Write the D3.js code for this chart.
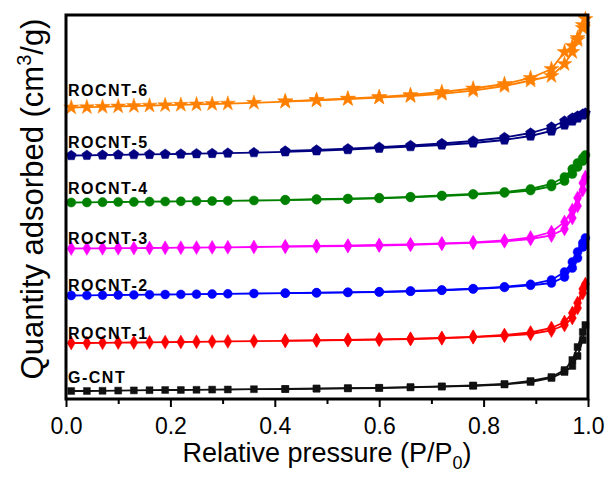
<!DOCTYPE html>
<html>
<head>
<meta charset="utf-8">
<script src="https://cdn.jsdelivr.net/npm/d3@7"></script>
<style>
  body { margin: 0; background: #fff; }
  svg { display: block; font-family: Arial, "Liberation Sans", sans-serif; }
</style>
</head>
<body>
<div id="chart"></div>
<script>
// relative pressure P/P0 of the measured points
const pressureAds = [0.01, 0.04, 0.07, 0.1, 0.13, 0.16, 0.19, 0.22, 0.25, 0.28, 0.31, 0.36, 0.42, 0.48,
    0.54, 0.6, 0.66, 0.72, 0.78, 0.84, 0.89, 0.93, 0.955, 0.97, 0.98, 0.99, 0.995];
const pressureDes = [0.99, 0.98, 0.97, 0.955, 0.93, 0.89, 0.84, 0.78, 0.72, 0.66, 0.6, 0.54, 0.48, 0.42];

const seriesNames = ["G-CNT", "ROCNT-1", "ROCNT-2", "ROCNT-3", "ROCNT-4", "ROCNT-5", "ROCNT-6"];

// quantity adsorbed (offset isotherms, arbitrary units)
const gcntAds = [8, 8, 8.2, 8.4, 8.6, 8.8, 9, 9, 9.2, 9.4, 9.5, 9.8, 10, 10.4, 10.7, 11, 11.7, 12.4, 13.2,
    14.5, 17, 21, 27, 33, 43, 59, 74];
const gcntDes = [67, 52, 39, 29, 22, 18, 15, 13.5, 12.6, 11.8, 11.2, 10.8, 10.4, 10];

const rocnt1Ads = [56, 56, 56.2, 56.4, 56.5, 56.7, 56.9, 57, 57.2, 57.4, 57.6, 57.9, 58.2, 58.6, 59, 59.4,
    60, 60.8, 61.8, 63.2, 65, 68.5, 74, 81, 91, 106, 115];
const rocnt1Des = [110, 96, 86, 77, 71, 66.5, 64, 62.2, 61, 60.2, 59.6, 59.1, 58.7, 58.3];

const rocnt2Ads = [103.5, 103.6, 103.8, 104, 104.1, 104.3, 104.5, 104.6, 104.8, 105, 105.2, 105.5, 105.8,
    106.2, 106.6, 107, 107.7, 108.7, 110, 111.6, 113.7, 116, 122, 131, 141, 152, 161];
const rocnt2Des = [156, 147, 137, 127, 119, 114.7, 112.2, 110.4, 109, 108, 107.2, 106.7, 106.3, 105.9];

const rocnt3Ads = [150.5, 150.6, 150.7, 150.8, 150.9, 151, 151.2, 151.3, 151.4, 151.6, 151.7, 152, 152.3,
    152.7, 153, 153.5, 154.2, 155.2, 156.2, 157.7, 160, 163.5, 170, 181, 193, 209, 222];
const rocnt3Des = [216, 201, 189, 177, 167, 161.5, 158.5, 156.7, 155.6, 154.7, 154, 153.4, 153, 152.6];

const rocnt4Ads = [196.5, 196.6, 196.8, 197, 197.1, 197.3, 197.5, 197.7, 197.9, 198, 198.2, 198.5, 198.9,
    199.4, 200, 200.7, 201.7, 203, 204.4, 206.2, 208.5, 212.5, 218, 225, 232, 238, 244];
const rocnt4Des = [241, 236, 230, 222, 215, 210, 207, 205, 203.5, 202.2, 201.2, 200.4, 199.8, 199.2];

const rocnt5Ads = [243.5, 243.7, 244, 244.2, 244.4, 244.6, 244.8, 245, 245.3, 245.6, 245.9, 246.4, 247.2,
    248.2, 249.4, 250.8, 252.4, 254, 256, 259, 263, 268, 274, 278, 281, 284, 286];
const rocnt5Des = [285, 283, 281, 278, 272, 266, 261.5, 258, 255.5, 253.5, 251.8, 250.3, 249, 248];

const rocnt6Ads = [291.5, 291.8, 292.2, 292.6, 293, 293.4, 293.8, 294.2, 294.6, 295, 295.4, 296.2, 297.4,
    298.7, 300, 301.4, 303, 305.2, 308.4, 313, 318.5, 323, 335, 347, 359, 371, 380];
const rocnt6Des = [374, 361, 353, 347, 330, 321, 315, 310.5, 307, 304, 302, 300.4, 299, 297.7];

const xTicks = [0, 0.2, 0.4, 0.6, 0.8, 1.0];
const xMinorTicks = [0.1, 0.3, 0.5, 0.7, 0.9];

const adsData = [gcntAds, rocnt1Ads, rocnt2Ads, rocnt3Ads, rocnt4Ads, rocnt5Ads, rocnt6Ads];
const desData = [gcntDes, rocnt1Des, rocnt2Des, rocnt3Des, rocnt4Des, rocnt5Des, rocnt6Des];

// styles
const colors = ["#111111", "#ff0000", "#0000ff", "#ff00ff", "#008000", "#000080", "#ff8000"];
const symbolPentagon = {
    draw(ctx, size) {
        const r = Math.sqrt(size / 2.378);
        for (let i = 0; i < 5; i++) {
            const a = -Math.PI / 2 + i * 2 * Math.PI / 5;
            if (i === 0) ctx.moveTo(r * Math.cos(a), r * Math.sin(a));
            else ctx.lineTo(r * Math.cos(a), r * Math.sin(a));
        }
        ctx.closePath();
    }
};
const shapes = [
    { type: d3.symbolSquare, size: 48 },
    { type: d3.symbolDiamond, size: 56 },
    { type: d3.symbolCircle, size: 62 },
    { type: d3.symbolDiamond, size: 56 },
    { type: d3.symbolCircle, size: 66 },
    { type: symbolPentagon, size: 66 },
    { type: d3.symbolStar, size: 70 }
];
const labelGap = [8, 4.5, 5, 5, 8.5, 8, 11.5];

const W = 610, H = 477;
const margin = { top: 15, right: 22, bottom: 78, left: 66 };
const width = W - margin.left - margin.right;
const height = H - margin.top - margin.bottom;

const svg = d3.select("#chart")
    .append("svg")
    .attr("width", W)
    .attr("height", H);

const g = svg.append("g")
    .attr("transform", `translate(${margin.left},${margin.top})`);

const x = d3.scaleLinear().domain([0, 1]).range([0, width]);
const y = d3.scaleLinear().domain([0, 384]).range([height, 0]);

// x axis: major + minor ticks, outward
const xAxis = g.append("g")
    .attr("transform", `translate(0,${height})`)
    .call(d3.axisBottom(x).tickValues(xTicks).tickFormat(d3.format(".1f"))
        .tickSize(8).tickPadding(11));
xAxis.select(".domain").remove();
xAxis.selectAll(".tick line").attr("stroke", "#000").attr("stroke-width", 2);
xAxis.selectAll(".tick text")
    .style("font-size", "23px")
    .attr("fill", "#000");

const xMinor = g.append("g")
    .attr("transform", `translate(0,${height})`)
    .call(d3.axisBottom(x).tickValues(xMinorTicks).tickSize(5).tickFormat(""));
xMinor.select(".domain").remove();
xMinor.selectAll(".tick line").attr("stroke", "#000").attr("stroke-width", 2);

const line = d3.line()
    .x(d => x(d[0]))
    .y(d => y(d[1]));

seriesNames.forEach((name, i) => {
    const ads = pressureAds.map((p, j) => [p, adsData[i][j]]);
    const des = pressureDes.map((p, j) => [p, desData[i][j]]);
    const desLine = [ads[ads.length - 1]].concat(des);

    const sg = g.append("g").attr("class", "series");
    sg.append("path")
        .attr("d", line(ads))
        .attr("fill", "none")
        .attr("stroke", colors[i])
        .attr("stroke-width", 1.8);
    sg.append("path")
        .attr("d", line(desLine))
        .attr("fill", "none")
        .attr("stroke", colors[i])
        .attr("stroke-width", 1.8);

    const sym = d3.symbol().type(shapes[i].type).size(shapes[i].size);
    sg.selectAll("path.mk")
        .data(ads.concat(des))
        .enter()
        .append("path")
        .attr("class", "mk")
        .attr("d", sym)
        .attr("transform", d => `translate(${x(d[0])},${y(d[1])})`)
        .attr("fill", colors[i])
        .attr("stroke", colors[i])
        .attr("stroke-width", 0.8)
        .attr("stroke-opacity", 0.6);

    g.append("text")
        .attr("x", 2)
        .attr("y", y(adsData[i][0]) - labelGap[i])
        .style("font-size", "16px")
        .style("font-weight", "bold")
        .style("letter-spacing", "1.5px")
        .attr("fill", "#000")
        .text(name);
});

// frame
g.append("rect")
    .attr("x", 0)
    .attr("y", 0)
    .attr("width", width)
    .attr("height", height)
    .attr("fill", "none")
    .attr("stroke", "#000")
    .attr("stroke-width", 3);

// axis titles
const xt = svg.append("text")
    .attr("x", margin.left + width / 2)
    .attr("y", 462)
    .attr("text-anchor", "middle")
    .style("font-size", "27px")
    .attr("fill", "#000");
xt.append("tspan").text("Relative pressure (P/P");
xt.append("tspan").attr("dy", 7).style("font-size", "18px").text("0");
xt.append("tspan").attr("dy", -7).text(")");

const yt = svg.append("text")
    .attr("transform", `translate(43,199) rotate(-90)`)
    .attr("text-anchor", "middle")
    .style("font-size", "31px")
    .attr("fill", "#000");
yt.append("tspan").text("Quantity adsorbed (cm");
yt.append("tspan").attr("dy", -12).style("font-size", "20px").text("3");
yt.append("tspan").attr("dy", 12).text("/g)");
</script>
</body>
</html>
